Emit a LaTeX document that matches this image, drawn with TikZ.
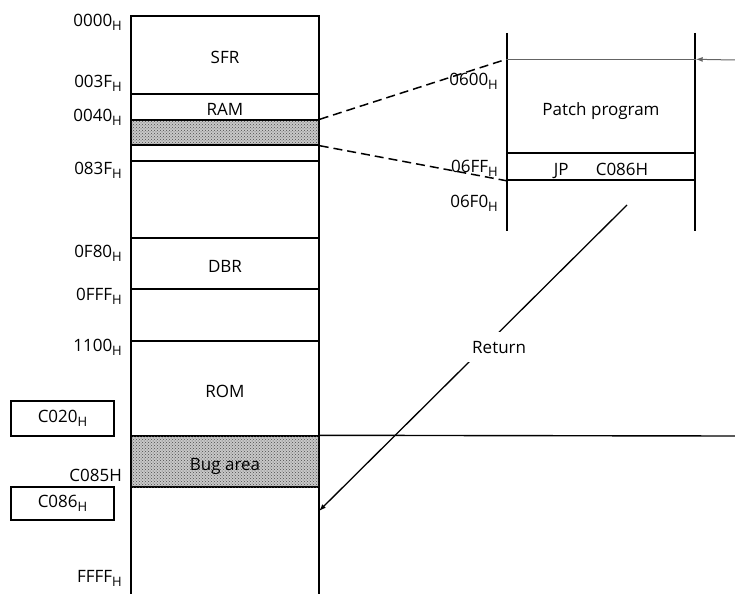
\documentclass[tikz,border=0pt]{standalone}
\usepackage{fontspec}
\setmainfont{Open Sans}
\usetikzlibrary{arrows.meta,positioning,patterns}
\definecolor{memgray}{RGB}{200,200,200}
\definecolor{entrygray}{RGB}{100,100,100}
\newcommand{\hsub}{\raisebox{-4pt}{\fontsize{13}{13}\selectfont H}}
\newcommand{\memfont}{\fontsize{17}{19}\selectfont}
\tikzset{
    seg/.style={
        draw,line width=1.4pt,minimum width=188pt,inner sep=0pt,
        text height=17pt,text depth=0pt,font=\memfont
    },
    bugseg/.style={
        seg,fill=memgray,
        postaction={pattern=crosshatch dots,pattern color=black!70}
    },
    addr/.style={
        anchor=east,inner sep=0pt,font=\memfont
    },
    tag/.style={
        draw,line width=1.4pt,minimum width=103pt,inner sep=0pt,
        font=\memfont
    },
    wall/.style={line width=1.4pt},
    zoomline/.style={line width=1.5pt,dash pattern=on 9pt off 5pt},
    arrow/.style={
        -{Latex[length=7pt,width=5pt]},line width=1.3pt
    }
}

\begin{document}
\begin{tikzpicture}[x=1pt,y=-1pt]
\useasboundingbox (0,0) rectangle (735,594);

\draw[wall] (131,16) -- (131,594);
\draw[wall] (319,16) -- (319,594);

\node[seg,minimum height=78pt] (sfr) at (225,55) {SFR};
\node[seg,minimum height=26pt] (ram) at (225,107) {RAM};
\node[bugseg,text height=0pt,minimum height=25pt] (ramcopy) at (225,132.5) {};
\node[seg,text height=0pt,minimum height=16pt] (gap) at (225,153) {};
\node[seg,minimum height=51pt] (dbr) at (225,263.5) {DBR};
\node[seg,minimum height=95pt] (rom) at (225,388.5) {ROM};
\node[bugseg,minimum height=51pt] (bug) at (225,461.5) {Bug area};

\node[addr] (a0000) at (122,22) {0000\hsub};
\node[addr] (a003F) at (122,83) {003F\hsub};
\node[addr] (a0040) at (122,117) {0040\hsub};
\node[addr] (a083F) at (122,170) {083F\hsub};
\node[addr] (a0F80) at (122,253) {0F80\hsub};
\node[addr] (a0FFF) at (122,296) {0FFF\hsub};
\node[addr] (a1100) at (122,347) {1100\hsub};
\node[addr] (aC085) at (122,475) {C085H};
\node[addr] (aFFFF) at (122,578) {FFFF\hsub};

\node[tag,minimum height=35pt] (c020) at (62.5,418.5) {C020\hsub};
\node[tag,minimum height=33pt] (c086) at (62.5,503.5) {C086\hsub};

\draw[wall] (507,33) -- (507,231);
\draw[wall] (695,33) -- (695,231);

\node[seg,draw=none,minimum height=93pt] (patch) at (601,106.5) {Patch program};
\node[seg,minimum height=27pt] (jump) at (601,166.5) {JP\hspace{1.6em}C086H};

\node[addr] (a0600) at (498,81) {0600\hsub};
\node[addr] (a06FF) at (498,168) {06FF\hsub};
\node[addr] (a06F0) at (498,203) {06F0\hsub};

\coordinate (entry) at (735,60);
\draw[entrygray,line width=1pt] (patch.north west) -- (patch.north east);
\draw[arrow,entrygray,line width=1pt] (entry) -- (patch.north east);
\draw[line width=1.4pt] (patch.south west) -- (patch.south east);

\draw[zoomline] (ramcopy.north east) -- (patch.north west);
\draw[zoomline] (ramcopy.south east) -- (jump.south west);

\coordinate (farright) at (735,436);
\draw[wall] (bug.north east) -- (farright);

\coordinate (retstart) at (627,205);
\coordinate (retend) at (319,511);
\draw[arrow] (retstart) -- node[
    pos=0.42,xshift=1.5pt,yshift=-13.5pt,
    fill=white,inner sep=9pt,font=\memfont
] (ret) {Return} (retend);

\end{tikzpicture}
\end{document}
